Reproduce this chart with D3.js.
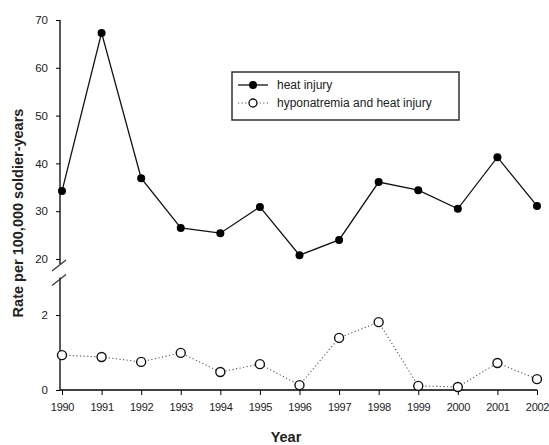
<!DOCTYPE html>
<html>
<head>
<meta charset="utf-8">
<script src="https://cdn.jsdelivr.net/npm/d3@7"></script>
<style>
  body { margin: 0; background: #fff; }
  text { font-family: Arial, "Liberation Sans", sans-serif; }
</style>
</head>
<body>
<svg id="chart"></svg>
<script>
// data
const years = [1990, 1991, 1992, 1993, 1994, 1995, 1996, 1997, 1998, 1999, 2000, 2001, 2002];
const heatInjury = [34.2, 67.3, 36.9, 26.5, 25.4, 30.9, 20.8, 24.0, 36.1, 34.4, 30.5, 41.3, 31.1];
const hyponatremia = [0.93, 0.88, 0.75, 0.99, 0.48, 0.69, 0.13, 1.39, 1.81, 0.11, 0.08, 0.72, 0.29];
const topTicks = [20, 30, 40, 50, 60, 70];
const bottomTicks = [0, 2];
const seriesNames = ['heat injury', 'hyponatremia and heat injury'];

const width = 549;
const height = 445;

const svg = d3.select('#chart')
    .attr('width', width)
    .attr('height', height);

// scales: the y axis is broken, upper part for heat injury, lower part for hyponatremia
const x = d3.scaleLinear().domain([1990, 2002]).range([62, 537]);
const yTop = d3.scaleLinear().domain([20, 70]).range([259, 20]);
const yBot = d3.scaleLinear().domain([0, 3]).range([390, 277.5]);

const axisX = 60;

// x axis
const xAxis = svg.append('g')
    .attr('transform', `translate(0, ${yBot(0)})`)
    .call(d3.axisBottom(x).tickValues(years).tickFormat(d3.format('d')).tickSize(5).tickSizeOuter(0));
xAxis.select('.domain').remove();
xAxis.append('line')
    .attr('x1', axisX).attr('x2', x(2002))
    .attr('stroke', '#000').attr('stroke-width', 1.6);

// upper y axis
const yAxisTop = svg.append('g')
    .attr('transform', `translate(${axisX}, 0)`)
    .call(d3.axisLeft(yTop).tickValues(topTicks).tickFormat(d3.format('d')).tickSize(4).tickSizeOuter(0));
yAxisTop.select('.domain').remove();
yAxisTop.append('line')
    .attr('y1', yTop(70)).attr('y2', yTop(20) + 5)
    .attr('stroke', '#000').attr('stroke-width', 1.3);

// lower y axis
const yAxisBot = svg.append('g')
    .attr('transform', `translate(${axisX}, 0)`)
    .call(d3.axisLeft(yBot).tickValues(bottomTicks).tickFormat(d3.format('d')).tickSize(4).tickSizeOuter(0));
yAxisBot.select('.domain').remove();
yAxisBot.append('line')
    .attr('y1', yBot(3)).attr('y2', yBot(0))
    .attr('stroke', '#000').attr('stroke-width', 1.3);

svg.selectAll('.tick text')
    .style('font-size', '11.5px')
    .style('fill', '#222');
yAxisTop.selectAll('text').attr('x', -12);
yAxisBot.selectAll('text').attr('x', -12);
xAxis.selectAll('text')
    .attr('dy', '1.2em')
    .style('font-size', '11px')
    .style('letter-spacing', '-0.3px');

// axis break marks
[yTop(20) + 7, yBot(3) + 3].forEach(cy => {
    svg.append('line')
        .attr('x1', axisX - 8).attr('y1', cy + 5)
        .attr('x2', axisX + 6).attr('y2', cy - 6)
        .attr('stroke', '#333').attr('stroke-width', 1.2);
});

// heat injury line
svg.append('path')
    .datum(years)
    .attr('fill', 'none')
    .attr('stroke', '#111')
    .attr('stroke-width', 1.3)
    .attr('d', d3.line().x(d => x(d)).y((d, i) => yTop(heatInjury[i])));

svg.selectAll('.dot-heat')
    .data(years)
    .enter().append('circle')
    .attr('class', 'dot-heat')
    .attr('cx', d => x(d))
    .attr('cy', (d, i) => yTop(heatInjury[i]))
    .attr('r', 4)
    .attr('fill', '#000');

// hyponatremia line
svg.append('path')
    .datum(years)
    .attr('fill', 'none')
    .attr('stroke', '#555')
    .attr('stroke-width', 1.1)
    .attr('stroke-dasharray', '1.2,2.4')
    .attr('d', d3.line().x(d => x(d)).y((d, i) => yBot(hyponatremia[i])));

svg.selectAll('.dot-hypo')
    .data(years)
    .enter().append('circle')
    .attr('class', 'dot-hypo')
    .attr('cx', d => x(d))
    .attr('cy', (d, i) => yBot(hyponatremia[i]))
    .attr('r', 4.5)
    .attr('fill', '#fff')
    .attr('stroke', '#111')
    .attr('stroke-width', 1.4);

// legend
const legend = svg.append('g');
legend.append('rect')
    .attr('x', 232).attr('y', 72)
    .attr('width', 227).attr('height', 48)
    .attr('fill', '#fff')
    .attr('stroke', '#222')
    .attr('stroke-width', 1.4);

seriesNames.forEach((name, i) => {
    const ly = 85 + i * 18;
    legend.append('line')
        .attr('x1', 238).attr('x2', 268)
        .attr('y1', ly).attr('y2', ly)
        .attr('stroke', i === 0 ? '#111' : '#555')
        .attr('stroke-width', i === 0 ? 1.3 : 1.1)
        .attr('stroke-dasharray', i === 0 ? null : '1.2,2.4');
    legend.append('circle')
        .attr('cx', 253).attr('cy', ly)
        .attr('r', 4)
        .attr('fill', i === 0 ? '#000' : '#fff')
        .attr('stroke', '#111')
        .attr('stroke-width', i === 0 ? 0 : 1.3);
    legend.append('text')
        .attr('x', 277).attr('y', ly + 4)
        .style('font-size', '12px')
        .style('fill', '#222')
        .text(name);
});

// axis titles
svg.append('text')
    .attr('transform', `translate(23, 213) rotate(-90)`)
    .attr('text-anchor', 'middle')
    .style('font-size', '14.5px')
    .style('font-weight', 'bold')
    .style('fill', '#222')
    .text('Rate per 100,000 soldier-years');

svg.append('text')
    .attr('x', 286).attr('y', 442)
    .attr('text-anchor', 'middle')
    .style('font-size', '14.5px')
    .style('font-weight', 'bold')
    .style('fill', '#222')
    .text('Year');
</script>
</body>
</html>
